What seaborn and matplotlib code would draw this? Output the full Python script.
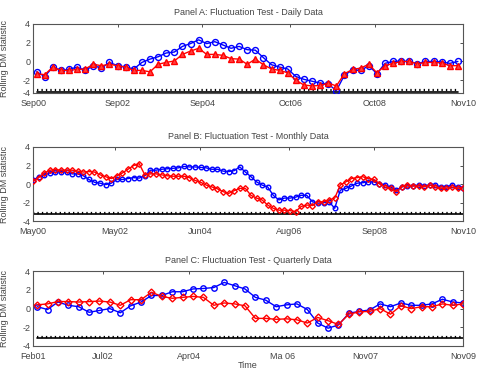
import matplotlib
matplotlib.use("Agg")
import matplotlib.pyplot as plt
import numpy as np
import seaborn as sns

# Panel A - daily data (rolling DM statistic)
a_blue = [-1.1, -1.6, -0.6, -0.95, -0.85, -0.6, -0.95, -0.45, -0.7, -0.1, -0.45, -0.6, -0.8,
          -0.1, 0.25, 0.5, 0.9, 1.0, 1.6, 1.9, 2.3, 1.9, 2.1, 1.75, 1.4, 1.6,
          1.25, 1.2, 0.4, -0.35, -0.6, -0.8, -1.6, -1.9, -2.1, -2.3, -2.4, -3.1, -1.45,
          -0.9, -0.95, -0.45, -1.3, -0.2, 0.0, 0.05, 0.0, -0.25, 0.0, 0.0, -0.05, -0.2, 0.0]
a_red = [-1.3, -1.4, -0.6, -0.95, -0.95, -0.85, -0.8, -0.3, -0.45, -0.3, -0.45, -0.6, -0.95,
         -0.95, -1.1, -0.3, -0.1, 0.05, 0.75, 1.1, 1.4, 0.75, 0.75, 0.65, 0.3, 0.25,
         -0.3, 0.25, -0.35, -0.8, -0.95, -1.2, -2.0, -2.5, -2.6, -2.55, -2.3, -2.6, -1.3,
         -0.85, -0.7, -0.3, -1.2, -0.45, -0.2, 0.0, 0.0, -0.25, -0.1, -0.1, -0.15, -0.45, -0.45]
a_ticks = [0, 24, 48, 73, 97, 122]
a_labels = ["Sep00", "Sep02", "Sep04", "Oct06", "Oct08", "Nov10"]

# Panel B - monthly data
b_blue = [0.4, 0.8, 1.0, 1.2, 1.3, 1.35, 1.3, 1.1, 1.1, 0.9, 0.5, 0.2, 0.1, -0.05, 0.1, 0.5,
          0.5, 0.6, 0.7, 0.65, 0.9, 1.5, 1.5, 1.6, 1.65, 1.7, 1.75, 1.9, 1.85, 1.85, 1.8,
          1.75, 1.6, 1.6, 1.4, 1.35, 1.45,
          1.85, 1.3, 0.8, 0.25, -0.1, -0.3, -1.2, -1.7, -1.5, -1.5, -1.4, -1.2, -1.2, -1.9,
          -2.05, -2.0, -1.9, -2.6, -0.65, -0.45, -0.2, 0.1, 0.15, 0.25, 0.25, 0.05, -0.1,
          -0.3, -0.65, -0.3, -0.2, -0.2, -0.1, -0.2, -0.1, -0.1, -0.3, -0.3, -0.1, -0.3, -0.4]
b_red = [0.3, 0.7, 1.2, 1.5, 1.55, 1.5, 1.5, 1.5, 1.4, 1.3, 1.35, 1.3, 1.0, 0.8, 0.6, 0.9,
         1.2, 1.6, 2.0, 2.2, 1.0, 1.1, 1.1, 1.0, 0.9, 0.85, 0.85, 0.85, 0.7, 0.4, 0.2,
         -0.1, -0.3, -0.5, -0.8, -1.0, -0.7,
         -0.46, -0.45, -1.2, -1.5, -1.7, -2.25, -2.6, -2.8, -2.8, -2.85, -2.95, -2.4, -2.25,
         -2.3, -1.9, -1.9, -1.7, -1.5, -0.1, 0.25, 0.6, 0.7, 0.8, 0.6, 0.5, 0.05, -0.3,
         -0.45, -0.8, -0.3, -0.1, -0.2, -0.2, -0.3, -0.1, -0.3, -0.45, -0.45, -0.3, -0.45, -0.4]
b_ticks = [0, 24, 49, 75, 100, 126]
b_labels = ["May00", "May02", "Jun04", "Aug06", "Sep08", "Nov10"]

# Panel C - quarterly data
c_blue = [0.2, -0.1, 0.7, 0.35, 0.2, -0.4, -0.2, 0.0, -0.45, 0.3, 0.7, 1.4, 1.4, 1.8,
          1.8, 2.1, 2.15, 2.25, 2.8, 2.45,
          2.1, 1.2, 0.9, 0.2, 0.4, 0.5, -0.1, -1.55, -2.1, -1.75, -0.5, -0.3, -0.15, 0.5,
          0.2, 0.6, 0.35, 0.35, 0.5, 1.0, 0.7, 0.6]
c_red = [0.4, 0.5, 0.75, 0.75, 0.7, 0.75, 0.8, 0.7, 0.35, 0.95, 0.95, 1.75, 1.3, 1.1,
         1.2, 1.3, 1.2, 0.35, 0.6, 0.5,
         0.3, -1.05, -1.05, -1.15, -1.1, -1.2, -1.55, -0.95, -1.3, -1.7, -0.6, -0.35, -0.3,
         0.0, -0.6, 0.3, 0.0, 0.2, 0.2, 0.5, 0.35, 0.5]
c_ticks = [0, 17, 38, 61, 81, 105]
c_labels = ["Feb01", "Jul02", "Apr04", "Ma 06", "Nov07", "Nov09"]

crit_dotted = -3.05
crit_solid = -3.2

titles = ["Panel A: Fluctuation Test - Daily Data",
          "Panel B: Fluctuation Test - Monthly Data",
          "Panel C: Fluctuation Test - Quarterly Data"]

sns.set_style("white")
plt.rcParams['font.family'] = ['Liberation Sans', 'DejaVu Sans']
plt.rcParams['axes.unicode_minus'] = False

fig = plt.figure(figsize=(4.79, 3.72), dpi=100)
boxes = [[0.069, 0.75, 0.898, 0.186],
         [0.069, 0.405, 0.898, 0.2],
         [0.069, 0.07, 0.898, 0.201]]

# panel A is cut off just below the critical line in the original
panels = [
    (a_blue, a_red, a_ticks, a_labels, "^", (1.0, 120.5), 3.9, -3.35),
    (b_blue, b_red, b_ticks, b_labels, "D", (0.0, 126.0), 2.9, -4.0),
    (c_blue, c_red, c_ticks, c_labels, "D", (1.0, 105.0), 3.5, -4.0),
]

for i, (blue, red, ticks, labels, rmark, span, msize, ybot) in enumerate(panels):
    ax = fig.add_axes(boxes[i])
    x = np.linspace(span[0], span[1], len(blue))

    # critical value lines
    ax.plot([x[0], x[-1]], [crit_solid, crit_solid], color="black", lw=1.2, zorder=1)
    ax.plot([x[0], x[-1]], [crit_dotted, crit_dotted], color="black", lw=1.6,
            ls=(0, (0.6, 1.4)), zorder=1)

    sns.lineplot(x=x, y=blue, ax=ax, color="#0000ff", lw=1.0, marker="o",
                 markersize=msize + 0.4, markerfacecolor="none", markeredgecolor="#0000ff",
                 markeredgewidth=1.0, zorder=3)
    sns.lineplot(x=x, y=red, ax=ax, color="#ff0000", lw=1.0, marker=rmark,
                 markersize=msize, markerfacecolor="none" if rmark == "D" else "#ff4040",
                 markeredgecolor="#ff0000", markeredgewidth=1.0, zorder=4)

    ax.set_xlim(ticks[0], ticks[-1])
    ax.set_ylim(ybot, 4)
    ax.set_yticks([ybot, -2, 0, 2, 4])
    ax.set_yticklabels(["-4", "-2", "0", "2", "4"])
    ax.set_xticks(ticks)
    ax.set_xticklabels(labels)
    ax.tick_params(direction="in", length=2.5, width=0.6, labelsize=6.5,
                   top=True, right=True, colors="#333333", labelcolor="#444444")
    ax.tick_params(axis="y", pad=2)
    ax.tick_params(axis="x", pad=4)
    for s in ax.spines.values():
        s.set_color("#555555")
        s.set_linewidth(0.8)
    ax.set_ylabel("Rolling DM statistic", fontsize=6.5, color="#444444")
    ax.yaxis.set_label_coords(-0.056, 0.5)
    ax.set_title(titles[i], fontsize=6.5, color="#444444", pad=6)

ax.set_xlabel("Time", fontsize=6.5, color="#444444", labelpad=0)

fig.savefig("out.png", dpi=100)
